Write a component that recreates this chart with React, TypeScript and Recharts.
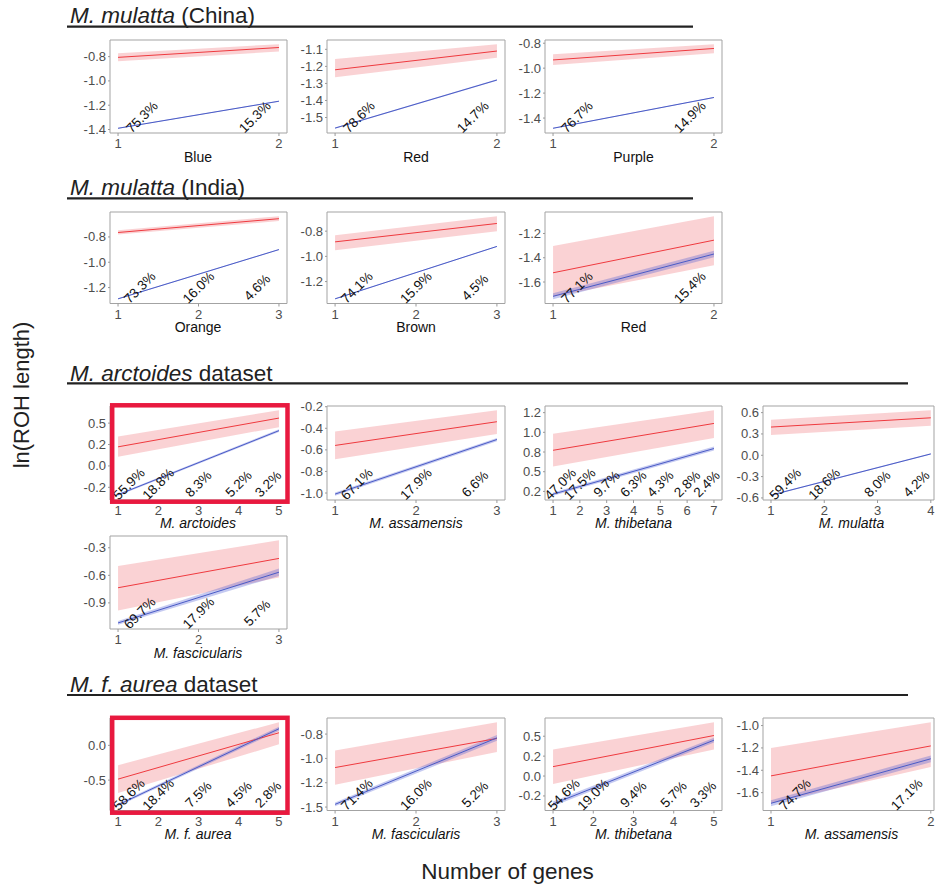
import React from 'react';
import {
  ComposedChart,
  Line,
  Area,
  XAxis,
  YAxis,
  ReferenceArea,
  ReferenceDot,
} from 'recharts';

const FONT = '"Liberation Sans", Arial, Helvetica, sans-serif';

// --- data: one entry per panel, reading order (top-left to bottom-right) ---
const panelNames = [
  'Blue', 'Red', 'Purple',
  'Orange', 'Brown', 'Red',
  'M. arctoides', 'M. assamensis', 'M. thibetana', 'M. mulatta',
  'M. fascicularis',
  'M. f. aurea', 'M. fascicularis', 'M. thibetana', 'M. assamensis',
];
const italicNames = [false, false, false, false, false, false, true, true, true, true, true, true, true, true, true];
const geneCounts = [2, 2, 2, 3, 3, 2, 5, 3, 7, 4, 3, 5, 3, 5, 2];

// fitted line (red) and its confidence band, at x = 1 and x = max genes
const redStart = [-0.806, -1.22, -0.934, -0.765, -0.885, -1.524, 0.223, -0.559, 0.772, 0.397, -0.735, -0.486, -1.094, 0.118, -1.45];
const redEnd = [-0.725, -1.11, -0.842, -0.656, -0.739, -1.255, 0.559, -0.339, 1.113, 0.527, -0.416, 0.181, -0.795, 0.509, -1.182];
const redLowStart = [-0.839, -1.263, -0.974, -0.781, -0.951, -1.722, 0.107, -0.687, 0.565, 0.285, -0.983, -0.686, -1.27, -0.1, -1.695];
const redHighStart = [-0.772, -1.156, -0.888, -0.748, -0.832, -1.303, 0.345, -0.43, 0.983, 0.5, -0.499, -0.286, -0.92, 0.333, -1.2];
const redLowEnd = [-0.758, -1.15, -0.88, -0.675, -0.8, -1.462, 0.453, -0.454, 0.927, 0.415, -0.623, 0.014, -0.934, 0.333, -1.37];
const redHighEnd = [-0.698, -1.07, -0.808, -0.636, -0.681, -1.057, 0.65, -0.233, 1.28, 0.633, -0.218, 0.333, -0.628, 0.676, -0.97];

// second fitted line (blue) with half-width of its band
const blueStart = [-1.39, -1.562, -1.482, -1.289, -1.337, -1.718, -0.336, -1.01, 0.215, -0.561, -1.118, -0.857, -1.472, -0.35, -1.695];
const blueEnd = [-1.167, -1.28, -1.235, -0.9, -0.921, -1.369, 0.412, -0.504, 0.794, 0.019, -0.566, 0.239, -0.789, 0.45, -1.297];
const blueHalfStart = [0.004, 0.004, 0.004, 0.004, 0.004, 0.025, 0.012, 0.015, 0.02, 0.008, 0.02, 0.02, 0.02, 0.03, 0.027];
const blueHalfEnd = [0.004, 0.004, 0.004, 0.004, 0.004, 0.027, 0.015, 0.015, 0.025, 0.008, 0.04, 0.03, 0.03, 0.03, 0.03];

// share of samples for each gene count
const percentLabels = [
  ['75.3%', '15.3%'],
  ['78.6%', '14.7%'],
  ['76.7%', '14.9%'],
  ['73.3%', '16.0%', '4.6%'],
  ['74.1%', '15.9%', '4.5%'],
  ['77.1%', '15.4%'],
  ['55.9%', '18.8%', '8.3%', '5.2%', '3.2%'],
  ['67.1%', '17.9%', '6.6%'],
  ['47.0%', '17.5%', '9.7%', '6.3%', '4.3%', '2.8%', '2.4%'],
  ['59.4%', '18.6%', '8.0%', '4.2%'],
  ['69.7%', '17.9%', '5.7%'],
  ['58.6%', '18.4%', '7.5%', '4.5%', '2.8%'],
  ['71.4%', '16.0%', '5.2%'],
  ['54.6%', '19.0%', '9.4%', '5.7%', '3.3%'],
  ['74.7%', '17.1%'],
];

const yTicks = [
  [-1.4, -1.2, -1.0, -0.8],
  [-1.5, -1.4, -1.3, -1.2, -1.1],
  [-1.4, -1.2, -1.0, -0.8],
  [-1.2, -1.0, -0.8],
  [-1.2, -1.0, -0.8],
  [-1.6, -1.4, -1.2],
  [-0.25, 0, 0.25, 0.5],
  [-1.0, -0.8, -0.6, -0.4, -0.2],
  [0.25, 0.5, 0.75, 1.0, 1.25],
  [-0.6, -0.3, 0, 0.3, 0.6],
  [-0.9, -0.6, -0.3],
  [-0.5, 0],
  [-1.5, -1.25, -1.0, -0.75],
  [-0.25, 0, 0.25, 0.5],
  [-1.6, -1.4, -1.2, -1.0],
];
const yTickLabels = [
  ['-1.4', '-1.2', '-1.0', '-0.8'],
  ['-1.5', '-1.4', '-1.3', '-1.2', '-1.1'],
  ['-1.4', '-1.2', '-1.0', '-0.8'],
  ['-1.2', '-1.0', '-0.8'],
  ['-1.2', '-1.0', '-0.8'],
  ['-1.6', '-1.4', '-1.2'],
  ['-0.2', '0.0', '0.2', '0.5'],
  ['-1.0', '-0.8', '-0.6', '-0.4', '-0.2'],
  ['0.2', '0.5', '0.8', '1.0', '1.2'],
  ['-0.6', '-0.3', '0.0', '0.3', '0.6'],
  ['-0.9', '-0.6', '-0.3'],
  ['-0.5', '0.0'],
  ['-1.5', '-1.2', '-1.0', '-0.8'],
  ['-0.2', '0.0', '0.2', '0.5'],
  ['-1.6', '-1.4', '-1.2', '-1.0'],
];

const sectionTitles = [
  { italic: 'M. mulatta', rest: ' (China)' },
  { italic: 'M. mulatta', rest: ' (India)' },
  { italic: 'M. arctoides', rest: ' dataset' },
  { italic: 'M. f. aurea', rest: ' dataset' },
];
const highlighted = [6, 11];

// --- layout ---
const panelRow = [0, 0, 0, 1, 1, 1, 2, 2, 2, 2, 3, 4, 4, 4, 4];
const panelCol = [0, 1, 2, 0, 1, 2, 0, 1, 2, 3, 0, 0, 1, 2, 3];
const rowTop = [40, 212, 405.5, 536, 718];
const rowHeight = [93, 91.5, 94, 93, 92.5];
const colLeft = [109.5, 327, 545, 763];
const colWidth = [177, 178, 177, 171];
const colPadRight = [0.05, 0.05, 0.05, 0.02];
const sectionBaseline = [22.7, 195, 380.7, 691.7];
const sectionRuleY = [26.7, 198.3, 383.3, 695];
const sectionRuleEnd = [693, 693, 908, 908];

const Y_AXIS_W = 40;
const X_AXIS_H = 18;
const PAD = 8;
const TICK_FONT = 13;

const RED = '#ef3a3f';
const RED_FILL = '#e8202a';
const BLUE = '#4a5bc6';
const BLUE_FILL = '#4050d0';
const FRAME = '#e8193f';

const XTick = (props: any) => (
  <text
    x={props.x}
    y={props.y}
    dy="0.71em"
    textAnchor="middle"
    fontSize={TICK_FONT}
    fontFamily={FONT}
    fill="#4d4d4d"
  >
    {props.payload.value}
  </text>
);

const makeYTick = (i: number) => (props: any) => {
  const v = props.payload.value;
  const k = yTicks[i].findIndex((t) => Math.abs(t - v) < 1e-9);
  return (
    <text
      x={props.x}
      y={props.y}
      dy="0.35em"
      textAnchor="end"
      fontSize={TICK_FONT}
      fontFamily={FONT}
      fill="#4d4d4d"
    >
      {k >= 0 ? yTickLabels[i][k] : String(v)}
    </text>
  );
};

function Panel({ i }: { i: number }) {
  const row = panelRow[i];
  const col = panelCol[i];
  const n = geneCounts[i];
  const span = n - 1;
  const boxW = colWidth[col];
  const boxH = rowHeight[row];

  const data = [
    {
      x: 1,
      red: redStart[i],
      redBand: [redLowStart[i], redHighStart[i]],
      blue: blueStart[i],
      blueBand: [blueStart[i] - blueHalfStart[i], blueStart[i] + blueHalfStart[i]],
    },
    {
      x: n,
      red: redEnd[i],
      redBand: [redLowEnd[i], redHighEnd[i]],
      blue: blueEnd[i],
      blueBand: [blueEnd[i] - blueHalfEnd[i], blueEnd[i] + blueHalfEnd[i]],
    },
  ];

  // ggplot-style 5% expansion around everything drawn
  const vals = data.flatMap((d) => [d.red, d.blue, ...d.redBand, ...d.blueBand]);
  const lo = Math.min(...vals);
  const hi = Math.max(...vals);
  const yPad = (hi - lo) * 0.05;
  const yDomain: [number, number] = [lo - yPad, hi + yPad];
  const xDomain: [number, number] = [1 - 0.05 * span, n + colPadRight[col] * span];
  const xTicks = Array.from({ length: n }, (_, k) => k + 1);

  const unitPx = boxW / (xDomain[1] - xDomain[0]);
  const nudge = Math.min(24, 0.27 * unitPx);

  return (
    <div
      style={{
        position: 'absolute',
        left: colLeft[col] - Y_AXIS_W,
        top: rowTop[row] - PAD,
      }}
    >
      <ComposedChart
        width={Y_AXIS_W + boxW + PAD}
        height={PAD + boxH + X_AXIS_H}
        data={data}
        margin={{ top: PAD, right: PAD, bottom: 0, left: 0 }}
      >
        <XAxis
          dataKey="x"
          type="number"
          domain={xDomain}
          ticks={xTicks}
          interval={0}
          allowDataOverflow
          height={X_AXIS_H}
          tickSize={3}
          tickMargin={3}
          axisLine={false}
          tickLine={{ stroke: '#9a9a9a' }}
          tick={XTick}
        />
        <YAxis
          type="number"
          domain={yDomain}
          ticks={yTicks[i]}
          interval={0}
          allowDataOverflow
          width={Y_AXIS_W}
          tickSize={2}
          tickMargin={2}
          axisLine={false}
          tickLine={{ stroke: '#9a9a9a' }}
          tick={makeYTick(i)}
        />
        <Area
          dataKey="redBand"
          type="linear"
          stroke="none"
          fill={RED_FILL}
          fillOpacity={0.2}
          isAnimationActive={false}
        />
        <Area
          dataKey="blueBand"
          type="linear"
          stroke="none"
          fill={BLUE_FILL}
          fillOpacity={0.3}
          isAnimationActive={false}
        />
        <Line dataKey="red" type="linear" stroke={RED} strokeWidth={1} dot={false} activeDot={false} isAnimationActive={false} />
        <Line dataKey="blue" type="linear" stroke={BLUE} strokeWidth={1} dot={false} activeDot={false} isAnimationActive={false} />
        {percentLabels[i].map((txt, k) => {
          const dx = k === 0 ? nudge : k === n - 1 ? -nudge : 0;
          return (
            <ReferenceDot
              key={k}
              x={k + 1}
              y={yDomain[0]}
              r={0}
              ifOverflow="visible"
              shape={(p: any) => {
                const cx = p.cx + dx;
                const cy = p.cy - 16;
                return (
                  <text
                    x={cx}
                    y={cy}
                    transform={`rotate(-45, ${cx}, ${cy})`}
                    textAnchor="middle"
                    dominantBaseline="central"
                    fontSize={13.5}
                    fontFamily={FONT}
                    fill="#111"
                  >
                    {txt}
                  </text>
                );
              }}
            />
          );
        })}
        <ReferenceArea
          x1={xDomain[0]}
          x2={xDomain[1]}
          y1={yDomain[0]}
          y2={yDomain[1]}
          ifOverflow="visible"
          fill="none"
          stroke="#a3a3a3"
          strokeWidth={1}
        />
      </ComposedChart>
    </div>
  );
}

export default function App() {
  return (
    <div
      style={{
        position: 'absolute',
        left: 0,
        top: 0,
        width: 937,
        height: 887,
        background: '#fff',
        overflow: 'hidden',
        fontFamily: FONT,
      }}
    >
      {panelNames.map((_, i) => (
        <Panel key={i} i={i} />
      ))}
      <svg
        width={937}
        height={887}
        style={{ position: 'absolute', left: 0, top: 0, pointerEvents: 'none' }}
      >
        {sectionTitles.map((t, s) => (
          <g key={s}>
            <text x={70} y={sectionBaseline[s]} fontSize={22.5} fill="#222">
              <tspan fontStyle="italic">{t.italic}</tspan>
              <tspan>{t.rest}</tspan>
            </text>
            <line
              x1={67}
              x2={sectionRuleEnd[s]}
              y1={sectionRuleY[s]}
              y2={sectionRuleY[s]}
              stroke="#222"
              strokeWidth={2.2}
            />
          </g>
        ))}
        {panelNames.map((name, i) => {
          const row = panelRow[i];
          const col = panelCol[i];
          const cx = colLeft[col] + colWidth[col] / 2 + (col === 3 ? 3 : 0);
          return (
            <text
              key={i}
              x={cx}
              y={rowTop[row] + rowHeight[row] + 28.5}
              textAnchor="middle"
              fontSize={14}
              fontStyle={italicNames[i] ? 'italic' : 'normal'}
              fill="#111"
            >
              {name}
            </text>
          );
        })}
        {highlighted.map((i) => {
          const row = panelRow[i];
          const col = panelCol[i];
          return (
            <rect
              key={i}
              x={colLeft[col] + 2.7}
              y={rowTop[row] - 0.2}
              width={colWidth[col] - 1.7}
              height={rowHeight[row] + 2.4}
              fill="none"
              stroke={FRAME}
              strokeWidth={4.5}
            />
          );
        })}
        <text
          x={29}
          y={395}
          transform="rotate(-90, 29, 395)"
          textAnchor="middle"
          fontSize={22}
          fill="#222"
        >
          ln(ROH length)
        </text>
        <text x={507.5} y={879} textAnchor="middle" fontSize={22.5} fill="#222">
          Number of genes
        </text>
      </svg>
    </div>
  );
}
